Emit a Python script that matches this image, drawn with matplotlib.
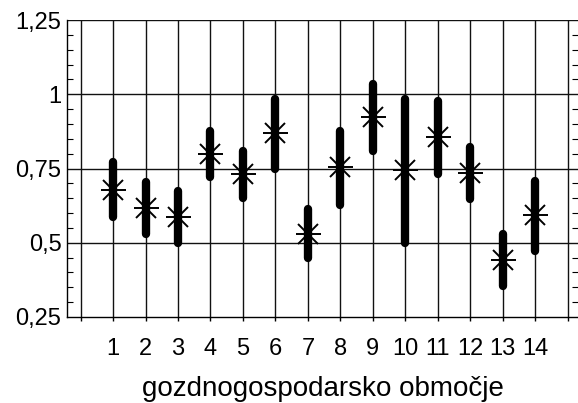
import matplotlib.pyplot as plt
import numpy as np
from matplotlib.ticker import MultipleLocator, FixedLocator

plt.rcParams['font.family'] = ['Liberation Sans', 'DejaVu Sans']

# gozdnogospodarsko obmocje 1..14
regions = np.arange(1, 15)
low  = [0.575, 0.515, 0.487, 0.710, 0.637, 0.734, 0.437, 0.615, 0.795, 0.487, 0.717, 0.633, 0.342, 0.460]
high = [0.785, 0.717, 0.687, 0.889, 0.822, 0.997, 0.626, 0.889, 1.048, 0.997, 0.990, 0.835, 0.542, 0.720]
mean = [0.677, 0.616, 0.586, 0.800, 0.731, 0.869, 0.531, 0.754, 0.923, 0.744, 0.856, 0.734, 0.441, 0.593]

fig = plt.figure(figsize=(5.78, 4.03), dpi=100)
ax = fig.add_axes([67/578, 1 - 317/403, 1 - 67/578, 297/403])

ax.set_xlim(-0.42, 15.32)
ax.set_ylim(0.25, 1.25)

# grid
for x in range(16):
    ax.axvline(x, color='#111111', lw=1.0, zorder=1)
for y in [0.5, 0.75, 1.0, 1.25]:
    ax.axhline(y, color='#111111', lw=1.0, zorder=1)

# range bars (round caps, so pull ends in by half the width)
half = 0.013
ax.vlines(regions, np.array(low) + half, np.array(high) - half,
          color='black', lw=6, capstyle='round', zorder=3)
ax.plot(regions, mean, ls='none', marker='x', ms=14, mew=1.4, color='black', zorder=4)
ax.plot(regions, mean, ls='none', marker='_', ms=18, mew=1.4, color='black', zorder=4)

# axes styling
ax.spines['right'].set_visible(False)
ax.spines['top'].set_visible(False)
for s in ['left', 'bottom']:
    ax.spines[s].set_linewidth(1.0)

ax.yaxis.set_minor_locator(MultipleLocator(0.05))
ax.set_yticks([0.25, 0.5, 0.75, 1.0, 1.25])
ax.set_yticklabels(['0,25', '0,5', '0,75', '1', '1,25'])
ax.tick_params(axis='y', which='major', direction='in', length=0, labelsize=17, pad=4,
               right=True)
ax.tick_params(axis='y', which='minor', direction='in', length=4, width=0.8, right=True)

ax.xaxis.set_major_locator(FixedLocator(range(16)))
ax.set_xticklabels([''] + [str(r) for r in regions] + [''])
ax.tick_params(axis='x', which='major', direction='out', length=3, width=1.0, labelsize=17, pad=12)

ax.set_xlabel('gozdnogospodarsko območje', fontsize=20, labelpad=12)

fig.savefig('out.png', dpi=100)
